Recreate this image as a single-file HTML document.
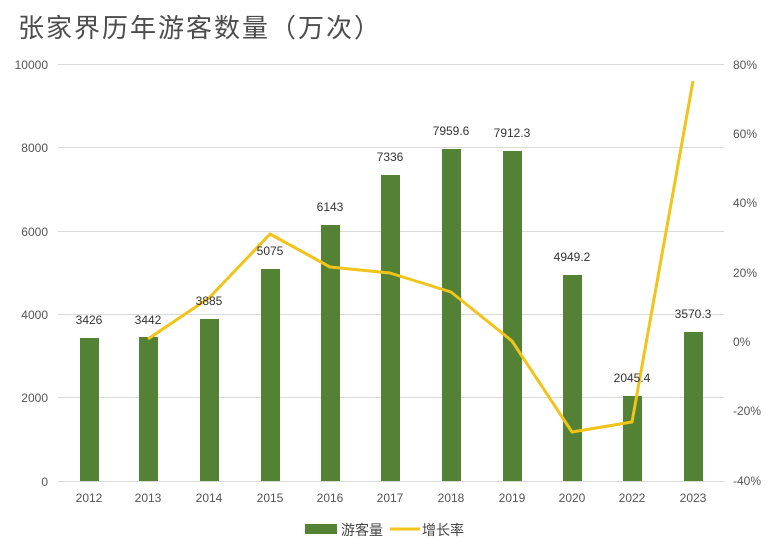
<!DOCTYPE html>
<html><head><meta charset="utf-8"><style>
body{margin:0;background:#fff;}
svg text{font-family:"Liberation Sans","Noto Sans CJK SC",sans-serif;}
</style></head><body>
<svg width="774" height="553" xmlns="http://www.w3.org/2000/svg">
<text x="18" y="37" font-size="26" fill="#4d4d4d" font-family="'Noto Serif CJK SC',serif" letter-spacing="2">张家界历年游客数量（万次）</text>
<g stroke="#d9d9d9" stroke-width="1">
<line x1="58" x2="724" y1="64.5" y2="64.5"/>
<line x1="58" x2="724" y1="147.5" y2="147.5"/>
<line x1="58" x2="724" y1="231.5" y2="231.5"/>
<line x1="58" x2="724" y1="314.5" y2="314.5"/>
<line x1="58" x2="724" y1="397.5" y2="397.5"/>
<line x1="58" x2="724" y1="481.5" y2="481.5"/>
</g>
<g font-size="12" fill="#555" text-anchor="end">
<text x="48" y="69">10000</text><text x="48" y="152">8000</text><text x="48" y="236">6000</text>
<text x="48" y="319">4000</text><text x="48" y="402">2000</text><text x="48" y="486">0</text>
</g>
<g font-size="12" fill="#555" text-anchor="start">
<text x="733" y="69">80%</text><text x="733" y="138">60%</text><text x="733" y="207">40%</text>
<text x="733" y="277">20%</text><text x="733" y="346">0%</text><text x="733" y="415">-20%</text><text x="733" y="485">-40%</text>
</g>
<g fill="#548235">
<rect x="80" y="338" width="19" height="143"/>
<rect x="139" y="337" width="19" height="144"/>
<rect x="200" y="319" width="19" height="162"/>
<rect x="261" y="269" width="19" height="212"/>
<rect x="321" y="225" width="19" height="256"/>
<rect x="381" y="175" width="19" height="306"/>
<rect x="442" y="149" width="19" height="332"/>
<rect x="503" y="151" width="19" height="330"/>
<rect x="563" y="275" width="19" height="206"/>
<rect x="623" y="396" width="19" height="85"/>
<rect x="684" y="332" width="19" height="149"/>
</g>
<polyline fill="none" stroke="#f2c318" stroke-width="3" stroke-linejoin="round" points="148,339 209,298 270,234 330,267 390,273 451,292 512,341 572,432 632,422 693,81"/>
<g font-size="12" fill="#333" text-anchor="middle">
<text x="89" y="324">3426</text><text x="148" y="324">3442</text><text x="209" y="305">3885</text>
<text x="270" y="255">5075</text><text x="330" y="211">6143</text><text x="390" y="161">7336</text>
<text x="451" y="135">7959.6</text><text x="512" y="137">7912.3</text><text x="572" y="261">4949.2</text>
<text x="632" y="382">2045.4</text><text x="693" y="318">3570.3</text>
</g>
<g font-size="12" fill="#555" text-anchor="middle">
<text x="89" y="502">2012</text><text x="148" y="502">2013</text><text x="209" y="502">2014</text>
<text x="270" y="502">2015</text><text x="330" y="502">2016</text><text x="390" y="502">2017</text>
<text x="451" y="502">2018</text><text x="512" y="502">2019</text><text x="572" y="502">2020</text>
<text x="632" y="502">2022</text><text x="693" y="502">2023</text>
</g>
<rect x="305" y="524" width="32" height="10" fill="#548235"/>
<text x="341" y="535" font-size="14" fill="#444">游客量</text>
<line x1="390" x2="420" y1="529" y2="529" stroke="#f2c318" stroke-width="3"/>
<text x="422" y="535" font-size="14" fill="#444">增长率</text>
</svg>
</body></html>
